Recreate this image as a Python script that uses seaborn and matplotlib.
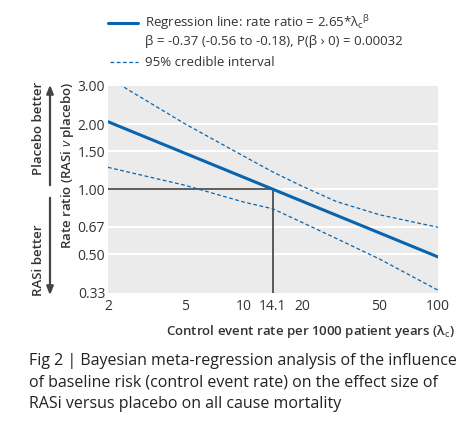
import numpy as np
import pandas as pd
import seaborn as sns
import matplotlib.pyplot as plt
from matplotlib.lines import Line2D

# values
reg_x = [2, 100]
reg_y = [2.05, 0.485]
upper_x = [2, 2.36, 5, 10, 14.1, 20, 30, 50, 100]
upper_y = [3.28, 3.0, 2.0, 1.42, 1.20, 1.03, 0.875, 0.76, 0.665]
lower_x = [2, 5, 10, 14.1, 20, 30, 50, 100]
lower_y = [1.26, 1.04, 0.87, 0.81, 0.70, 0.59, 0.474, 0.34]
ref_x = 14.1
ref_y = 1.0
x_ticks = [2, 5, 10, 14.1, 20, 50, 100]
x_labels = ['2', '5', '10', '14.1', '20', '50', '100']
y_ticks = [0.33, 0.50, 0.67, 1.00, 1.50, 2.00, 3.00]
y_labels = ['0.33', '0.50', '0.67', '1.00', '1.50', '2.00', '3.00']

sns.set_style('white')
FONT = 'Open Sans'
plt.rcParams['font.family'] = [FONT, 'DejaVu Sans']
plt.rcParams['mathtext.fontset'] = 'custom'
plt.rcParams['mathtext.rm'] = FONT
plt.rcParams['mathtext.it'] = FONT + ':italic'
TXT = '#333333'
BLUE = '#0a64ad'

W, H = 470, 430
fig = plt.figure(figsize=(W / 100, H / 100), dpi=100)
ax = fig.add_axes([108 / W, 1 - 293 / H, 330 / W, 207 / H])
ax.set_facecolor('#ebebeb')
for s in ax.spines.values():
    s.set_visible(False)

ax.set_xscale('log')
ax.set_yscale('log')
ax.set_xlim(2, 100)
ax.set_ylim(0.33, 3.0)

for yv in y_ticks[1:-1]:
    ax.axhline(yv, color='white', lw=1.5, zorder=1)

kw = dict(ax=ax, estimator=None, sort=False)
sns.lineplot(x=upper_x, y=upper_y, color=BLUE, lw=0.9, ls=(0, (3, 2)), zorder=3, **kw)
sns.lineplot(x=lower_x, y=lower_y, color=BLUE, lw=0.9, ls=(0, (3, 2)), zorder=3, **kw)
sns.lineplot(x=[reg_x[0], ref_x], y=[ref_y, ref_y], color='#333333', lw=1.1, zorder=2, **kw)
sns.lineplot(x=[ref_x, ref_x], y=[0.33, ref_y], color='#333333', lw=1.1, zorder=2, **kw)
sns.lineplot(x=reg_x, y=reg_y, color=BLUE, lw=2.2, zorder=4, **kw)

ax.set_xticks(x_ticks)
ax.set_xticklabels(x_labels)
ax.xaxis.set_minor_locator(plt.NullLocator())
ax.set_yticks(y_ticks)
ax.set_yticklabels(y_labels)
ax.yaxis.set_minor_locator(plt.NullLocator())
ax.tick_params(axis='x', direction='in', color='white', length=4, width=1.2,
               labelsize=10, labelcolor=TXT, pad=4)
ax.tick_params(axis='y', length=0, labelsize=10, labelcolor=TXT, pad=2)
for i, t in enumerate(ax.xaxis.get_major_ticks()):
    if x_ticks[i] in (2, 14.1, 100):
        t.tick1line.set_visible(False)

fig.text(310 / W, 1 - 332 / H, 'Control event rate per 1000 patient years (λ$_{\\mathrm{c}}$)',
         ha='center', va='center', fontsize=9.5, color=TXT, weight='semibold')
fig.text(67 / W, 1 - 165 / H, 'Rate ratio (RASi $\\it{v}$ placebo)', rotation=90,
         ha='center', va='center', fontsize=9.5, color=TXT, weight='semibold')
fig.text(38 / W, 1 - 128 / H, 'Placebo better', rotation=90,
         ha='center', va='center', fontsize=9.5, color=TXT, weight='semibold')
fig.text(38 / W, 1 - 260 / H, 'RASi better', rotation=90,
         ha='center', va='center', fontsize=9.5, color=TXT, weight='semibold')
arrow = dict(arrowstyle='-|>,head_length=0.5,head_width=0.2', color='#444444', lw=1.6)
fig.add_artist(plt.Annotation('', xy=(50 / W, 1 - 82 / H), xytext=(50 / W, 1 - 188 / H),
                              xycoords='figure fraction', arrowprops=arrow))
fig.add_artist(plt.Annotation('', xy=(50 / W, 1 - 298 / H), xytext=(50 / W, 1 - 195 / H),
                              xycoords='figure fraction', arrowprops=arrow))

# legend
fig.add_artist(Line2D([108 / W, 138 / W], [1 - 22.5 / H] * 2, color=BLUE, lw=2.2))
fig.add_artist(Line2D([110 / W, 138 / W], [1 - 62 / H] * 2, color=BLUE, lw=0.9, ls=(0, (3, 2))))
fig.text(145 / W, 1 - 22.5 / H, 'Regression line: rate ratio = 2.65*λ$_{\\mathrm{c}}$$^{\\mathrm{β}}$',
         ha='left', va='center', fontsize=9.5, color=TXT)
fig.text(145 / W, 1 - 42 / H, 'β = -0.37 (-0.56 to -0.18), P(β › 0) = 0.00032',
         ha='left', va='center', fontsize=9.5, color=TXT)
fig.text(145 / W, 1 - 62 / H, '95% credible interval',
         ha='left', va='center', fontsize=9.5, color=TXT)

# caption
caption = ('Fig 2 | Bayesian meta-regression analysis of the influence\n'
           'of baseline risk (control event rate) on the effect size of\n'
           'RASi versus placebo on all cause mortality')
fig.text(29 / W, 1 - 353 / H, caption, ha='left', va='top', fontsize=11.5,
         color='#222222', linespacing=1.45)

fig.savefig('out.png', dpi=100)
